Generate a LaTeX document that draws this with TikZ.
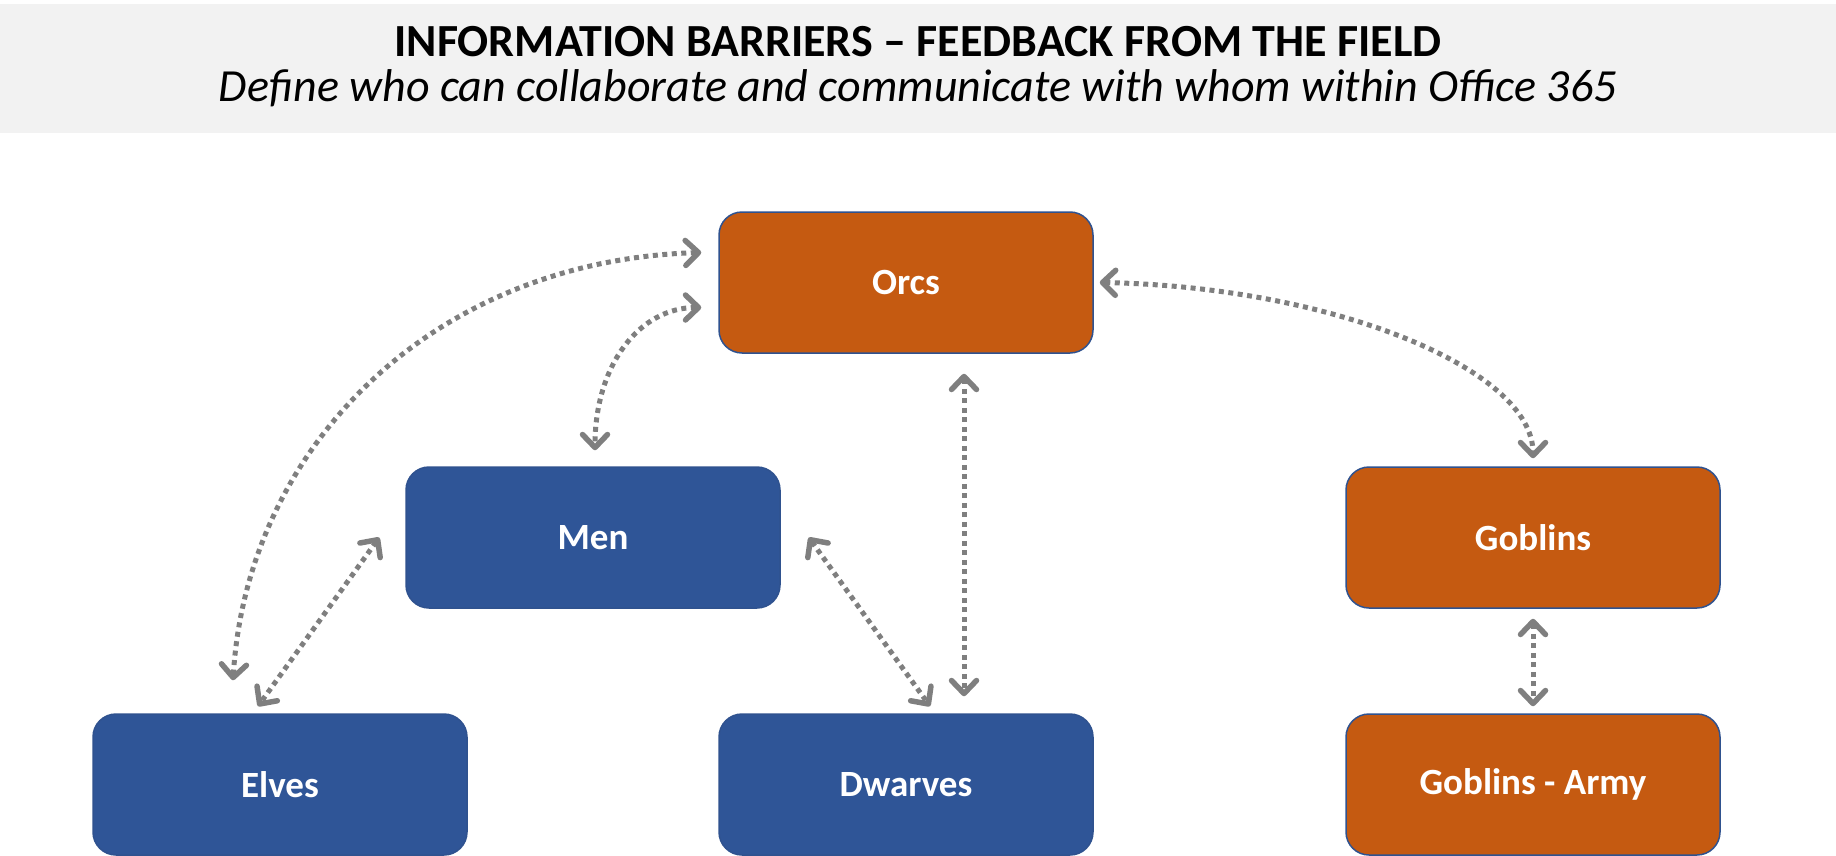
\documentclass[tikz,border=0pt]{standalone}
\usepackage{fontspec}
\setmainfont{Carlito}
\usetikzlibrary{arrows.meta,calc}
\definecolor{boxorange}{HTML}{C55A11}
\definecolor{boxblue}{HTML}{2F5597}
\definecolor{boxline}{HTML}{2F528F}
\definecolor{arrowgray}{HTML}{7F7F7F}
\definecolor{headgray}{HTML}{F2F2F2}
\tikzset{
  groupbox/.style={rounded corners=23pt, draw=boxline, line width=1.5pt,
    minimum width=374pt, minimum height=141pt, inner sep=0pt, text=white,
    font=\fontsize{37}{37}\selectfont\bfseries},
  orangebox/.style={groupbox, fill=boxorange},
  bluebox/.style={groupbox, fill=boxblue},
  conn/.style={draw=arrowgray, line width=5pt, dash pattern=on 5pt off 4.5pt,
    arrows={Straight Barb[length=13pt,width=25pt,line width=5.5pt,round]-Straight Barb[length=13pt,width=25pt,line width=5.5pt,round]}},
}
\begin{document}
\begin{tikzpicture}[x=1pt,y=-1pt]
\useasboundingbox (0,0) rectangle (1836,856);
\fill[headgray] (0,4) rectangle (1836,133);
\node[anchor=base, inner sep=0pt, font=\fontsize{46}{46}\selectfont\bfseries] (title) at (918,57) {INFORMATION BARRIERS – FEEDBACK FROM THE FIELD};
\node[anchor=base, inner sep=0pt, font=\fontsize{46}{46}\selectfont\itshape] (subtitle) at (918,102) {Define who can collaborate and communicate with whom within Office 365};

\node[orangebox] (orcs) at (906,282.5) {Orcs};
\node[bluebox] (men) at (593,537.5) {Men};
\node[orangebox] (goblins) at (1533,537.5) {Goblins};
\node[bluebox] (elves) at (280,784.5) {Elves};
\node[bluebox] (dwarves) at (906,784.5) {Dwarves};
\node[orangebox] (army) at (1533,784.5) {Goblins - Army};

\draw[conn] ($(orcs.west)+(-17,-30)$) .. controls +(-270,8) and +(14,-232) .. ($(elves.north)+(-47,-33)$);
\draw[conn] ($(orcs.west)+(-17,25)$) .. controls +(-62,0) and +(0,-85) .. ($(men.north)+(2,-16)$);
\draw[conn] ($(orcs.east)+(6,0)$) .. controls +(230,4) and +(0,-90) .. ($(goblins.north)+(0,-8)$);
\draw[conn] ($(orcs.south)+(58,20)$) -- ($(dwarves.north)+(58,-17)$);
\draw[conn] ($(men.west)+(-26,0)$) -- ($(elves.north)+(-22,-7)$);
\draw[conn] ($(men.east)+(28,0)$) -- ($(dwarves.north)+(24,-7)$);
\draw[conn] ($(goblins.south)+(0,10)$) -- ($(army.north)+(0,-7)$);
\end{tikzpicture}
\end{document}
